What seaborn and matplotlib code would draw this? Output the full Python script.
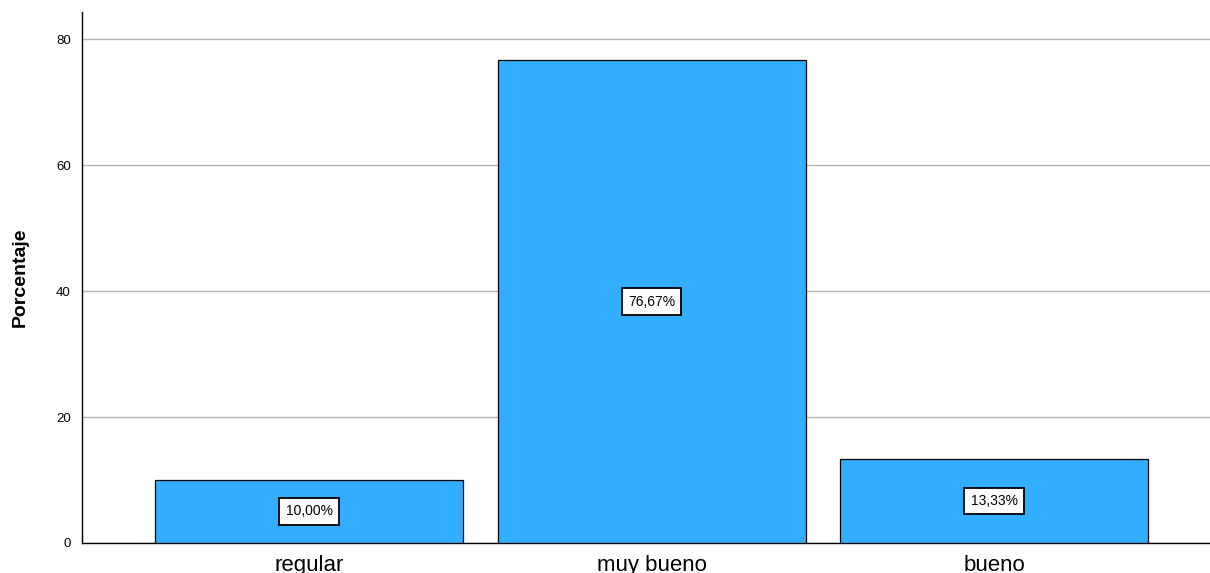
import pandas as pd
from matplotlib import pyplot as plt
import seaborn as sns

categorias = ['regular', 'muy bueno', 'bueno']
porcentajes = [10.00, 76.67, 13.33]
etiquetas = ['10,00%', '76,67%', '13,33%']
y_ticks = [0, 20, 40, 60, 80]

sns.set_style('white')
plt.rcParams['font.family'] = ['Liberation Sans', 'DejaVu Sans']
plt.rcParams['text.color'] = 'black'
plt.rcParams['xtick.color'] = 'black'
plt.rcParams['ytick.color'] = 'black'
plt.rcParams['axes.labelcolor'] = 'black'

data = pd.DataFrame({'categoria': categorias, 'porcentaje': porcentajes})

fig = plt.figure(figsize=(12.1, 5.73), dpi=100)
ax = fig.add_axes([0.0678, 0.0524, 0.9322, 0.9266])

sns.barplot(data=data, x='categoria', y='porcentaje', color='#33adff',
            saturation=1, width=0.9, edgecolor='black', linewidth=0.9,
            ax=ax, zorder=3)

for i, (v, lab) in enumerate(zip(porcentajes, etiquetas)):
    ax.text(i, v / 2, lab, ha='center', va='center', fontsize=10, zorder=4,
            bbox=dict(boxstyle='square,pad=0.45', facecolor='white',
                      edgecolor='black', linewidth=1.3))

ax.set_xlim(-0.663, 2.63)
ax.set_ylim(0, 84.3)
ax.set_yticks(y_ticks)
ax.yaxis.grid(True, color='#b4b4b4', linewidth=1, zorder=0)
ax.set_axisbelow(True)
ax.tick_params(axis='y', length=0, labelsize=9.5, pad=8)
ax.tick_params(axis='x', length=0, labelsize=16, pad=9)
ax.set_xlabel('')
ax.set_ylabel('Porcentaje', fontsize=14, fontweight='bold', labelpad=20)
sns.despine(ax=ax, top=True, right=True)
for s in ['left', 'bottom']:
    ax.spines[s].set_color('black')
    ax.spines[s].set_linewidth(1)

fig.savefig('out.png', dpi=100)
